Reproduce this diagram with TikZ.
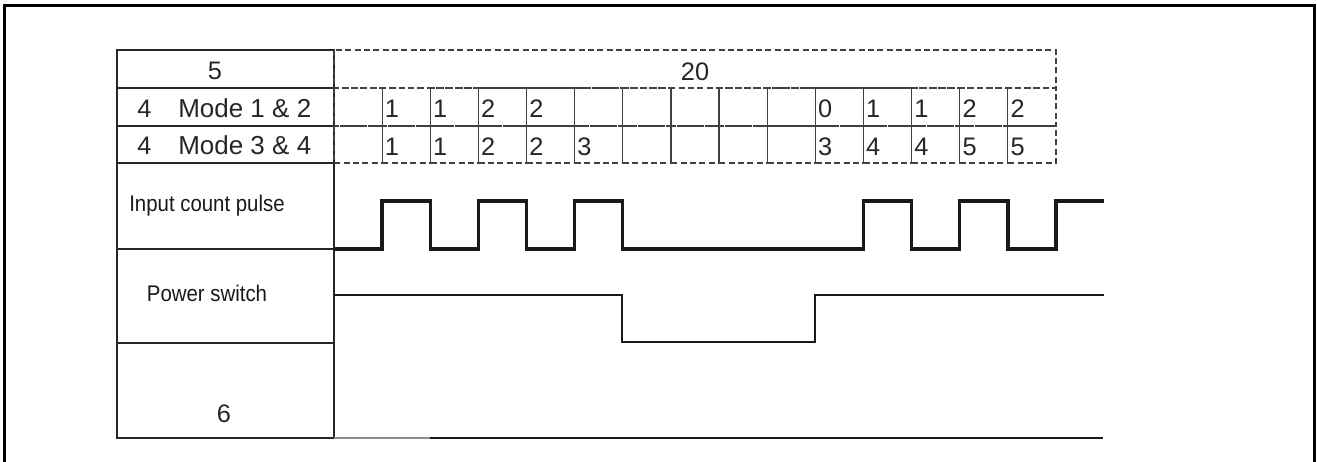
\documentclass[tikz,border=0pt]{standalone}
\usepackage{fontspec}
\setmainfont{Liberation Sans}
\newfontfamily\narrowfont[FakeStretch=0.9]{Liberation Sans}
\begin{document}
\begin{tikzpicture}[x=0.75pt,y=-0.75pt,
  frame/.style={line width=2.25pt},
  tab/.style={line width=1.8pt, black!85},
  tablow/.style={line width=1.5pt, black!85},
  dcell/.style={dash pattern=on 4.5pt off 2.5pt, line width=0.9pt, black!75},
  pulse/.style={line width=2.5pt, black!90, line join=miter},
  psw/.style={line width=1.5pt, black!90, line join=miter},
  big/.style={font=\fontsize{19}{21}\selectfont, inner sep=0pt, text=black!85},
  modetext/.style={font=\fontsize{19.5}{21}\selectfont, inner sep=0pt, text=black!85, anchor=base west},
  digit/.style={font=\fontsize{19}{21}\selectfont, inner sep=0pt, text=black!85, anchor=base west},
  lab/.style={font=\narrowfont\fontsize{17}{19}\selectfont, inner sep=0pt, text=black!90, anchor=base},
]
\useasboundingbox (0,0) rectangle (1317,461);
% outer frame
\draw[frame] (4,5) rectangle (1314,464);

% left table
\draw[tab] (117,50) rectangle (334,163);
\draw[tab] (117,88) -- (334,88);
\draw[tab] (117,126) -- (334,126);
\draw[tablow] (117,163) -- (117,438) -- (334,438) -- (334,163);
\draw[tab] (117,249) -- (334,249);
\draw[tablow] (117,343) -- (334,343);

% dashed grid
\def\cw{48.133}
\draw[dcell] (334,50) rectangle (1056,88);
\foreach \i in {0,...,14}{
  \draw[dcell] ({334+\i*\cw},88) rectangle ({334+(\i+1)*\cw},126);
  \draw[dcell] ({334+\i*\cw},126) rectangle ({334+(\i+1)*\cw},163);
}

% left column texts
\node[big, anchor=base] (five) at (215,79) {5};
\node[big, anchor=base west] (n12) at (137,117) {4};
\node[modetext] (m12) at (178,117) {Mode 1 \& 2};
\node[big, anchor=base west] (n34) at (137,154) {4};
\node[modetext] (m34) at (178,154) {Mode 3 \& 4};
\node[lab] (icp) at (207,211) {Input count pulse};
\node[lab] (pws) at (207,301) {Power switch};
\node[big, anchor=base] (six) at (224,422) {6};
\node[big, anchor=base] (twenty) at (695,80) {20};

% cell digits
\foreach \i/\t in {1/1,2/1,3/2,4/2,10/0,11/1,12/1,13/2,14/2}{
  \node[digit] (ra-\i) at ({334+\i*\cw+2.5},117) {\t};
}
\foreach \i/\t in {1/1,2/1,3/2,4/2,5/3,10/3,11/4,12/4,13/5,14/5}{
  \node[digit] (rb-\i) at ({334+\i*\cw+2.5},155) {\t};
}

% input count pulse
\draw[pulse] (334,249) -- ({334+1*\cw},249) -- ({334+1*\cw},201) -- ({334+2*\cw},201)
  -- ({334+2*\cw},249) -- ({334+3*\cw},249) -- ({334+3*\cw},201) -- ({334+4*\cw},201)
  -- ({334+4*\cw},249) -- ({334+5*\cw},249) -- ({334+5*\cw},201) -- ({334+6*\cw},201)
  -- ({334+6*\cw},249) -- ({334+11*\cw},249) -- ({334+11*\cw},201) -- ({334+12*\cw},201)
  -- ({334+12*\cw},249) -- ({334+13*\cw},249) -- ({334+13*\cw},201) -- ({334+14*\cw},201)
  -- ({334+14*\cw},249) -- ({334+15*\cw},249) -- ({334+15*\cw},201) -- (1104,201);

% power switch
\draw[psw] (334,294.5) -- (622,294.5) -- (622,342) -- (815,342) -- (815,294.5) -- (1104,294.5);

% bottom signal
\draw[line width=1pt, black!45] (334,438) -- (430,438);
\draw[line width=1.6pt, black!90] (430,438) -- (1103,438);
\end{tikzpicture}
\end{document}
